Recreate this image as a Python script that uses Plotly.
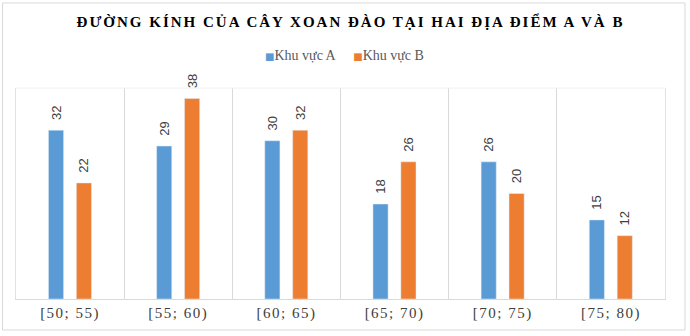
import plotly.graph_objects as go

# Diameter classes (cm) and tree counts per area
classes = ["[50; 55)", "[55; 60)", "[60; 65)", "[65; 70)", "[70; 75)", "[75; 80)"]
area_a = [32, 29, 30, 18, 26, 15]
area_b = [22, 38, 32, 26, 20, 12]

title_text = "ĐƯỜNG KÍNH CỦA CÂY XOAN ĐÀO TẠI HAI ĐỊA ĐIỂM A VÀ B"
name_a = "Khu vực A"
name_b = "Khu vực B"
color_a = "#5B9BD5"
color_b = "#ED7D31"

serif = "Liberation Serif, Times New Roman, serif"
label_font = dict(family="Liberation Sans, Arial, sans-serif", size=13, color="#404040")

fig = go.Figure()
for name, vals, color, off in [(name_a, area_a, color_a, -0.2), (name_b, area_b, color_b, 0.058)]:
    fig.add_trace(go.Bar(
        x=classes, y=vals, name=name,
        marker_color=color, width=0.14, offset=off,
        text=vals, texttemplate="  %{y}", textposition="outside", textangle=-90,
        constraintext="none", cliponaxis=False, textfont=label_font,
        showlegend=False,
    ))

# Compact legend row: coloured square glyph followed by the series name
def legend_item(name, color):
    return (f"<span style='color:{color};font-size:10px;font-family:DejaVu Sans'>■</span>"
            f"{name}")

legend_text = legend_item(name_a, color_a) + "&nbsp;" * 5 + legend_item(name_b, color_b)

fig.update_layout(
    width=690, height=336,
    margin=dict(l=15.5, r=25, t=88, b=37),
    paper_bgcolor="white", plot_bgcolor="white",
    barmode="group",
    title=dict(
        text=title_text, xref="container", x=0.508, xanchor="center",
        yref="container", y=0.935, yanchor="middle",
        font=dict(family=serif, size=15, color="#000000", weight="bold"),
    ),
    annotations=[dict(
        text=legend_text, xref="paper", yref="paper",
        x=(344.5 - 15.5) / 649.5, y=(299 - 55) / 211, xanchor="center", yanchor="middle",
        showarrow=False, font=dict(family=serif, size=14, color="#595959"),
    )],
    xaxis=dict(
        type="category", range=[-0.5, 5.5], tickson="boundaries",
        showgrid=True, gridcolor="#d9d9d9", gridwidth=1,
        showline=True, linecolor="#d9d9d9", linewidth=1,
        ticks="outside", ticklen=8, tickcolor="rgba(0,0,0,0)",
        tickfont=dict(family=serif, size=15, color="#404040"),
        zeroline=False,
    ),
    yaxis=dict(
        range=[0, 40], showgrid=False, showticklabels=False, zeroline=False,
        showline=True, linecolor="#dae3f3", linewidth=1, mirror=True, ticks="",
    ),
    shapes=[
        dict(type="line", xref="paper", yref="paper", x0=0, x1=1, y0=1, y1=1,
             line=dict(color="#f0f0f0", width=1)),
        dict(type="rect", xref="paper", yref="paper",
             x0=-0.0208, x1=1.0308, y0=-0.147, y1=1.403,
             line=dict(color="#d9d9d9", width=1)),
    ],
)

# Letter spacing for the title and category labels
post_js = """
var gd = document.getElementById('{plot_id}');
function applySpacing() {
    gd.querySelectorAll('.gtitle').forEach(function (t) { t.style.letterSpacing = '2px'; });
    gd.querySelectorAll('.xtick text').forEach(function (t) { t.style.letterSpacing = '1.5px'; });
}
applySpacing();
gd.on('plotly_afterplot', applySpacing);
"""

fig.write_html("out.html", post_script=post_js)
